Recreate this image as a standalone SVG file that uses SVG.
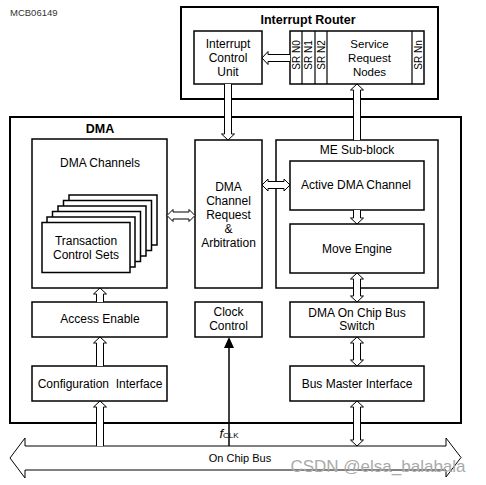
<svg xmlns="http://www.w3.org/2000/svg" width="486" height="485" viewBox="0 0 486 485">
<style>
text{font-family:"Liberation Sans",Arial,sans-serif;font-size:12px;fill:#000;text-anchor:middle}
.outer{fill:#fff;stroke:#000;stroke-width:2}
.box{fill:#fff;stroke:#000;stroke-width:1.5}
.arr{fill:#fff;stroke:#000;stroke-width:1}
.b{font-weight:bold;font-size:12.5px}
.sr{font-size:10px}
</style>
<rect width="486" height="485" fill="#fff"/>
<text x="10" y="16" style="font-size:9.5px;fill:#333;text-anchor:start">MCB06149</text>

<g id="interrupt-router">
<rect class="outer" x="181" y="7" width="257" height="92"/>
<text class="b" x="308" y="24">Interrupt Router</text>
</g>
<g id="icu">
<rect class="box" x="194" y="31" width="68" height="53"/>
<text x="228" y="48">Interrupt</text>
<text x="228" y="62">Control</text>
<text x="228" y="76">Unit</text>
</g>
<g id="srn">
<rect class="box" x="290" y="31" width="134" height="53"/>
<line x1="302" y1="31" x2="302" y2="84" stroke="#000" stroke-width="1.2"/>
<line x1="315" y1="31" x2="315" y2="84" stroke="#000" stroke-width="1.2"/>
<line x1="327" y1="31" x2="327" y2="84" stroke="#000" stroke-width="1.2"/>
<line x1="412" y1="31" x2="412" y2="84" stroke="#000" stroke-width="1.2"/>
<text class="sr" transform="translate(299.5,55) rotate(-90)">SR N0</text>
<text class="sr" transform="translate(312,55) rotate(-90)">SR N1</text>
<text class="sr" transform="translate(324.5,55) rotate(-90)">SR N2</text>
<text class="sr" transform="translate(421.5,55) rotate(-90)">SR Nn</text>
<text x="369.5" y="48" style="font-size:11.5px">Service</text>
<text x="369.5" y="62" style="font-size:11.5px">Request</text>
<text x="369.5" y="76" style="font-size:11.5px">Nodes</text>
</g>

<g id="dma">
<rect class="outer" x="10" y="117" width="451" height="306"/>
<text class="b" x="100" y="133">DMA</text>
</g>
<g id="dma-channels">
<rect class="box" x="32" y="139" width="135" height="149"/>
<text x="100" y="167">DMA Channels</text>
<rect class="box" x="69" y="195" width="88" height="50"/>
<rect class="box" x="63.5" y="200.5" width="88" height="50"/>
<rect class="box" x="58" y="206" width="88" height="50"/>
<rect class="box" x="52.5" y="211.5" width="88" height="50"/>
<rect class="box" x="47" y="217" width="88" height="50"/>
<rect class="box" x="42" y="222.5" width="88" height="50"/>
<text x="86" y="245">Transaction</text>
<text x="86" y="259">Control Sets</text>
</g>
<g id="arbitration">
<rect class="box" x="195" y="140" width="67" height="148"/>
<text x="228.5" y="191">DMA</text>
<text x="228.5" y="205">Channel</text>
<text x="228.5" y="219">Request</text>
<text x="228.5" y="233">&amp;</text>
<text x="228.5" y="247">Arbitration</text>
</g>
<g id="me-subblock">
<rect class="box" x="276" y="140" width="162" height="148"/>
<text x="357" y="154">ME Sub-block</text>
</g>
<g id="active-channel">
<rect class="box" x="290" y="161" width="134" height="49"/>
<text x="356" y="189">Active DMA Channel</text>
</g>
<g id="move-engine">
<rect class="box" x="290" y="224" width="134" height="49"/>
<text x="357" y="253">Move Engine</text>
</g>
<g id="access-enable">
<rect class="box" x="32" y="302" width="135" height="35"/>
<text x="100" y="323">Access Enable</text>
</g>
<g id="config-interface">
<rect class="box" x="32" y="366" width="135" height="35"/>
<text x="100" y="388" xml:space="preserve">Configuration  Interface</text>
</g>
<g id="clock-control">
<rect class="box" x="195" y="302" width="67" height="35"/>
<text x="228.5" y="316">Clock</text>
<text x="228.5" y="330">Control</text>
</g>
<g id="bus-switch">
<rect class="box" x="290" y="302" width="134" height="35"/>
<text x="357" y="317">DMA On Chip Bus</text>
<text x="357" y="330">Switch</text>
</g>
<g id="bus-master">
<rect class="box" x="290" y="366" width="134" height="35"/>
<text x="357" y="388">Bus Master Interface</text>
</g>

<g id="on-chip-bus">
<path class="arr" d="M10,458 L25,438 V446 H446 V438 L461,457.5 L446,477 V470 H25 V478 Z"/>
<text x="240" y="462" style="font-size:11px">On Chip Bus</text>
</g>

<g id="connectors">
<path class="arr" d="M290,54.5 H268 V51.5 L262,58 L268,64.5 V61.5 H290"/>
<path class="arr" d="M224.5,84 V134 H221.5 L228,140 L234.5,134 H231.5 V84"/>
<path class="arr" d="M353.5,140 V90 H350.5 L357,84 L363.5,90 H360.5 V140"/>
<path class="arr" d="M167,215.5 L173,209.5 V212 H189 V209.5 L195,215.5 L189,221.5 V219 H173 V221.5 Z"/>
<path class="arr" d="M262,185 L268,179 V181.5 H284 V179 L290,185 L284,191 V188.5 H268 V191 Z"/>
<path class="arr" d="M353.5,210 V218 H350.5 L357,224 L363.5,218 H360.5 V210"/>
<path class="arr" d="M357,273 L363.5,279 H360.5 V296 H363.5 L357,302 L350.5,296 H353.5 V279 H350.5 Z"/>
<path class="arr" d="M357,337 L363.5,343 H360.5 V360 H363.5 L357,366 L350.5,360 H353.5 V343 H350.5 Z"/>
<path class="arr" d="M357,401 L363.5,407 H360.5 V440 H363.5 L357,446 L350.5,440 H353.5 V407 H350.5 Z"/>
<path class="arr" d="M96.5,302 V294 H93.5 L100,288 L106.5,294 H103.5 V302"/>
<path class="arr" d="M96.5,366 V343 H93.5 L100,337 L106.5,343 H103.5 V366"/>
<path class="arr" d="M96.5,446 V407 H93.5 L100,401 L106.5,407 H103.5 V446"/>
<line x1="229" y1="446" x2="229" y2="347" stroke="#000" stroke-width="1.5"/>
<path d="M229,337 L234,348 H224 Z" fill="#000"/>
</g>
<text x="229" y="438"><tspan style="font-style:italic;font-size:13px">f</tspan><tspan style="font-size:8px">CLK</tspan></text>
<text x="378" y="472" style="font-size:17px;fill:#aaa">CSDN @elsa_balabala</text>
</svg>
